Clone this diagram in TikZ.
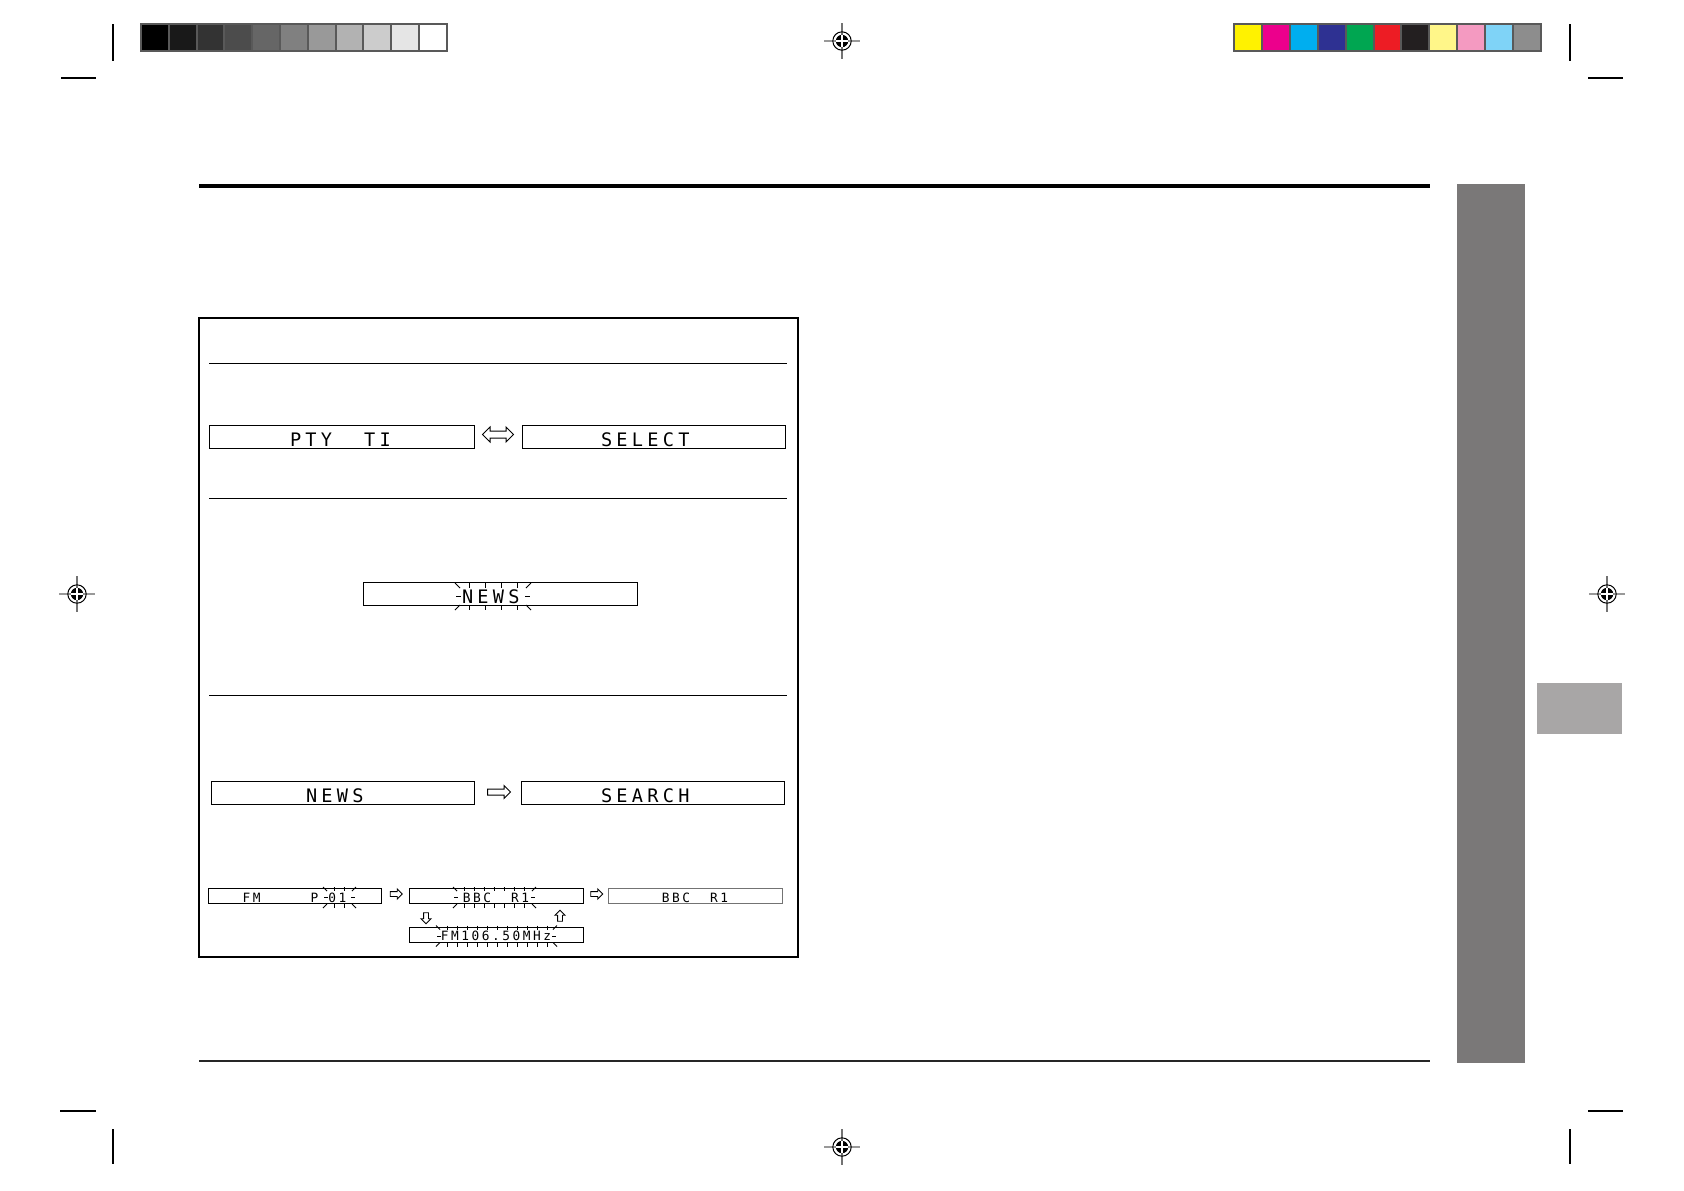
\documentclass[tikz,border=0pt]{standalone}
\usepackage{fontspec}
\usetikzlibrary{calc,shapes.arrows}
\newfontfamily\lcdbig[LetterSpace=23]{DejaVu Sans Mono}
\newfontfamily\lcdsmall[LetterSpace=20]{DejaVu Sans Mono}
\newcommand{\lcdgr}{\lcdbig\fontsize{9.3pt}{10pt}\selectfont}
\newcommand{\lcdch}{\lcdsmall\fontsize{6.4pt}{7pt}\selectfont}
\definecolor{tabgris}{HTML}{7A7878}
\definecolor{tabclaro}{HTML}{A8A6A6}
\definecolor{cAmarillo}{HTML}{FFF200}
\definecolor{cMagenta}{HTML}{EC008C}
\definecolor{cCian}{HTML}{00AEEF}
\definecolor{cAzul}{HTML}{2E3192}
\definecolor{cVerde}{HTML}{00A651}
\definecolor{cRojo}{HTML}{ED1C24}
\definecolor{cNegro}{HTML}{231F20}
\definecolor{cAmaClaro}{HTML}{FFF689}
\definecolor{cRosa}{HTML}{F49AC1}
\definecolor{cCeleste}{HTML}{7FD3F7}
\definecolor{cGris}{HTML}{8D8D8D}
% marcas de parpadeo: xl, xr, tope, base, lista, largo
\newcommand{\blinkfield}[6]{%
	\foreach \t in {#5} {
		\draw[blinkmark] (\t,#3-#6-2) -- (\t,#3-2);
		\draw[blinkmark] (\t,#4+2) -- (\t,#4+#6+2);
	}
	\draw[blinkmark] (#1-#6-2,#3-#6-2) -- (#1-2,#3-2);
	\draw[blinkmark] (#2+#6+2,#3-#6-2) -- (#2+2,#3-2);
	\draw[blinkmark] (#1-#6-2,#4+#6+2) -- (#1-2,#4+2);
	\draw[blinkmark] (#2+#6+2,#4+#6+2) -- (#2+2,#4+2);
	\draw[blinkmark] (#1-#6-1,{(#3+#4)/2}) -- (#1-1,{(#3+#4)/2});
	\draw[blinkmark] (#2+1,{(#3+#4)/2}) -- (#2+#6+1,{(#3+#4)/2});
}
\begin{document}
\begin{tikzpicture}[x=0.5pt, y=-0.5pt,
		lcdgrande/.style={draw, line width=0.5pt, inner sep=0pt, text width=#1, align=left, text height=10.5pt, text depth=1pt, font=\lcdgr},
		lcdchico/.style={draw, line width=0.5pt, inner sep=0pt, text height=6.75pt, text depth=0.75pt, minimum width=#1, font=\lcdch},
		hueca/.style={single arrow, draw, line width=0.5pt, inner xsep=0pt, inner ysep=1.25pt, single arrow head extend=1.75pt, minimum height=11.5pt},
		huecachica/.style={single arrow, draw, line width=0.45pt, inner xsep=0pt, inner ysep=1pt, single arrow head extend=1.25pt, minimum height=6pt},
		blinkmark/.style={line width=0.4pt},
		corte/.style={line width=0.7pt},
		regla/.style={line width=0.5pt}]
	\useasboundingbox (0,0) rectangle (1684,1190);
	
	% Marcas de corte
		\draw[corte] (61,78) -- (96,78);
		\draw[corte] (113,24) -- (113,61);
		\draw[corte] (1588,78) -- (1623,78);
		\draw[corte] (1570,24) -- (1570,61);
		\draw[corte] (60,1111) -- (96,1111);
		\draw[corte] (113,1129) -- (113,1164);
		\draw[corte] (1588,1111) -- (1623,1111);
		\draw[corte] (1570,1129) -- (1570,1164);
	
	% Registro
		\foreach \x/\y in {842/41, 77/594, 1607/594, 842/1147} {
			\draw[black!40, line width=0.6pt] (\x-18,\y) -- (\x+18,\y);
			\draw[black!55, line width=0.6pt] (\x,\y-18) -- (\x,\y+18);
			\draw[line width=0.5pt] (\x,\y) circle[radius=4.6pt];
			\fill (\x,\y) circle[radius=3.1pt];
			\draw[white, line width=0.6pt] (\x-6,\y) -- (\x+6,\y);
			\draw[white, line width=0.6pt] (\x,\y-6) -- (\x,\y+6);
		}
	
	% Escala de grises
		\foreach \g [count=\i from 0] in {100,90,...,0}
			\draw[black!65, line width=1pt, fill=black!\g] (141+\i*27.8,24) rectangle ++(27.8,27);
	
	% Escala de colores
		\foreach \c [count=\i from 0] in {cAmarillo,cMagenta,cCian,cAzul,cVerde,cRojo,cNegro,cAmaClaro,cRosa,cCeleste,cGris}
			\draw[black!65, line width=1pt, fill=\c] (1234+\i*27.9,24) rectangle ++(27.9,27);
	
	% Reglas y pestanas
		\draw[line width=2.4pt] (199,186) -- (1430,186);
		\draw[black!85, line width=1.2pt] (199,1061) -- (1430,1061);
		\fill[tabgris] (1457,184) rectangle (1525,1063);
		\fill[tabclaro] (1537,683) rectangle (1622,734);
	
	% Recuadro
		\draw[line width=0.6pt] (199,318) rectangle (798,957);
		\draw[regla] (209,363) -- (787,363);
		\draw[regla] (209,498) -- (787,498);
		\draw[regla] (209,695) -- (787,695);
	
	% Paso 1
		\node[lcdgrande=132.5pt] (ptyti) at (341.5,436.5) {\hspace*{40.5pt}PTY\hspace{16pt}TI};
		\node[lcdgrande=131.5pt] (select) at (653.5,436.5) {\hspace*{39.5pt}SELECT};
		\node[double arrow, draw, line width=0.5pt, inner xsep=0pt, inner ysep=1.5pt, double arrow head extend=2pt, minimum height=15.5pt, yshift=1pt] (cambio) at ($(ptyti.east)!0.5!(select.west)$) {};
	
	% Paso 2
		\node[lcdgrande=137pt] (newsblink) at (500,593.5) {\hspace*{49.5pt}NEWS};
		\blinkfield{462}{524}{590}{603}{469,485,501,517}{5}
	
	% Paso 3
		\node[lcdgrande=131.5pt] (news) at (342.5,793) {\hspace*{47.5pt}NEWS};
		\node[lcdgrande=131.5pt] (search) at (652.5,793) {\hspace*{40pt}SEARCH};
		\node[hueca, yshift=0.5pt] (paso) at ($(news.east)!0.5!(search.west)$) {};
	
	% Busqueda
		\node[lcdchico=86.5pt] (fmp) at (294.5,896) {FM\hspace{25pt}P\hspace{5pt}01};
		\node[lcdchico=87pt] (bbcblink) at (496,896) {BBC\hspace{10pt}R1};
		\node[lcdchico=87pt, draw=black!55] (bbc) at (695,896) {BBC\hspace{10pt}R1};
		\node[lcdchico=87pt] (fmfreq) at (496,934.5) {FM106.50MHz};
		\node[huecachica, yshift=1pt] (paso1) at ($(fmp.east)!0.5!(bbcblink.west)$) {};
		\node[huecachica, yshift=1pt] (paso2) at ($(bbcblink.east)!0.5!(bbc.west)$) {};
		\node[huecachica, rotate=-90, minimum height=5.5pt] (baja) at (426,917) {};
		\node[huecachica, rotate=90, minimum height=5.5pt] (sube) at (560,917) {};
		\blinkfield{329}{350}{893}{902}{334.5,344.5}{4}
		\blinkfield{459}{530}{893}{902}{464,474,484,494,504,514,524}{4}
		\blinkfield{442}{551}{931.5}{940.5}{447,457,...,547}{4}
\end{tikzpicture}
\end{document}
